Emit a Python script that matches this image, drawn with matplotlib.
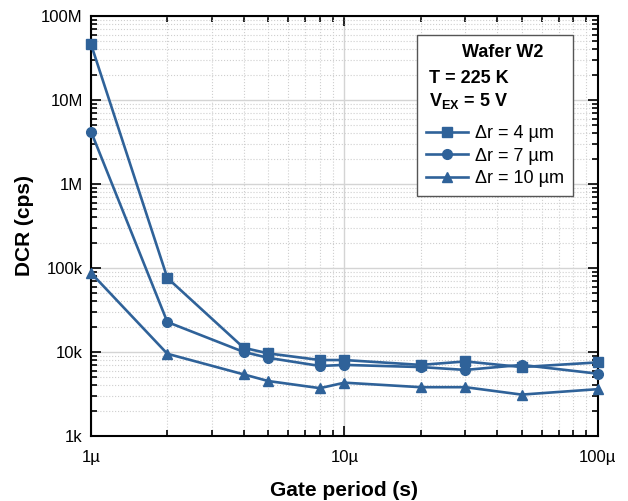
import matplotlib
matplotlib.use("Agg")
import matplotlib.pyplot as plt
from matplotlib.lines import Line2D
from matplotlib.ticker import LogLocator, FixedLocator, FixedFormatter, NullFormatter

plt.rcParams['font.family'] = ['Liberation Sans', 'DejaVu Sans']
plt.rcParams['mathtext.fontset'] = 'custom'
plt.rcParams['mathtext.rm'] = 'Liberation Sans'
plt.rcParams['mathtext.bf'] = 'Liberation Sans:bold'

# gate period (s)
period = [1e-6, 2e-6, 4e-6, 5e-6, 8e-6, 10e-6, 20e-6, 30e-6, 50e-6, 100e-6]

# DCR (cps) for each ring width
dcr_4um = [4.6e7, 7.6e4, 1.12e4, 9.6e3, 8.0e3, 8.0e3, 7.0e3, 7.7e3, 6.6e3, 7.5e3]
dcr_7um = [4.2e6, 2.27e4, 1.0e4, 8.5e3, 6.8e3, 7.0e3, 6.6e3, 6.1e3, 7.0e3, 5.5e3]
dcr_10um = [8.7e4, 9.5e3, 5.4e3, 4.5e3, 3.7e3, 4.3e3, 3.8e3, 3.8e3, 3.1e3, 3.6e3]

labels = ['Δr = 4 µm', 'Δr = 7 µm', 'Δr = 10 µm']
x_ticks = [1e-6, 1e-5, 1e-4]
x_ticklabels = ['1µ', '10µ', '100µ']
y_ticks = [1e3, 1e4, 1e5, 1e6, 1e7, 1e8]
y_ticklabels = ['1k', '10k', '100k', '1M', '10M', '100M']

color = '#2f6299'

fig = plt.figure(figsize=(6.28, 5.01), dpi=100)
ax = fig.add_axes([0.145, 0.13, 0.807, 0.838])

series = [(dcr_4um, 's'), (dcr_7um, 'o'), (dcr_10um, '^')]
for (vals, mk), lab in zip(series, labels):
    ax.plot(period, vals, color=color, lw=1.9, marker=mk, ms=7, label=lab,
            clip_on=False, zorder=3)

ax.set_xscale('log')
ax.set_yscale('log')
ax.set_xlim(1e-6, 1e-4)
ax.set_ylim(1e3, 1e8)

ax.xaxis.set_major_locator(FixedLocator(x_ticks))
ax.xaxis.set_major_formatter(FixedFormatter(x_ticklabels))
ax.xaxis.set_minor_locator(LogLocator(base=10, subs=range(2, 10)))
ax.xaxis.set_minor_formatter(NullFormatter())
ax.yaxis.set_major_locator(FixedLocator(y_ticks))
ax.yaxis.set_major_formatter(FixedFormatter(y_ticklabels))
ax.yaxis.set_minor_locator(LogLocator(base=10, subs=range(2, 10)))
ax.yaxis.set_minor_formatter(NullFormatter())

ax.grid(True, which='major', color='#d4d4d4', lw=1.0, ls='-')
ax.grid(True, which='minor', color='#cfcfcf', lw=0.8, ls=':')
ax.set_axisbelow(True)

ax.tick_params(which='both', direction='in', top=True, right=True,
               labelsize=12, width=1.2, color='black')
ax.tick_params(which='major', length=7, pad=6)
ax.tick_params(axis='x', which='major', pad=10)
ax.tick_params(which='minor', length=4)
for sp in ax.spines.values():
    sp.set_linewidth(1.5)

ax.set_xlabel('Gate period (s)', fontsize=15, fontweight='bold', labelpad=12)
ax.set_ylabel('DCR (cps)', fontsize=15, fontweight='bold', labelpad=5)

handles = [Line2D([], [], color=color, lw=1.9, marker=mk, ms=7) for _, mk in series]
leg = ax.legend(handles, labels, title='\n\n\n', loc='upper right',
                bbox_to_anchor=(0.951, 0.955), fontsize=13, title_fontsize=13,
                frameon=True, fancybox=False, framealpha=1, edgecolor='#555555',
                borderpad=0.5, labelspacing=0.3, handlelength=2.3,
                handletextpad=0.4, borderaxespad=0)
leg.get_frame().set_linewidth(1.0)
leg.set_zorder(5)

ax.text(0.813, 0.912, 'Wafer W2', transform=ax.transAxes, ha='center',
        va='center', fontsize=13, fontweight='bold', zorder=6)
ax.text(0.667, 0.852, 'T = 225 K', transform=ax.transAxes, ha='left',
        va='center', fontsize=13, fontweight='bold', zorder=6)
ax.text(0.667, 0.798, r'$\mathbf{V_{EX}}$ = 5 V', transform=ax.transAxes,
        ha='left', va='center', fontsize=13, fontweight='bold', zorder=6)

fig.savefig('out.png', dpi=100)
